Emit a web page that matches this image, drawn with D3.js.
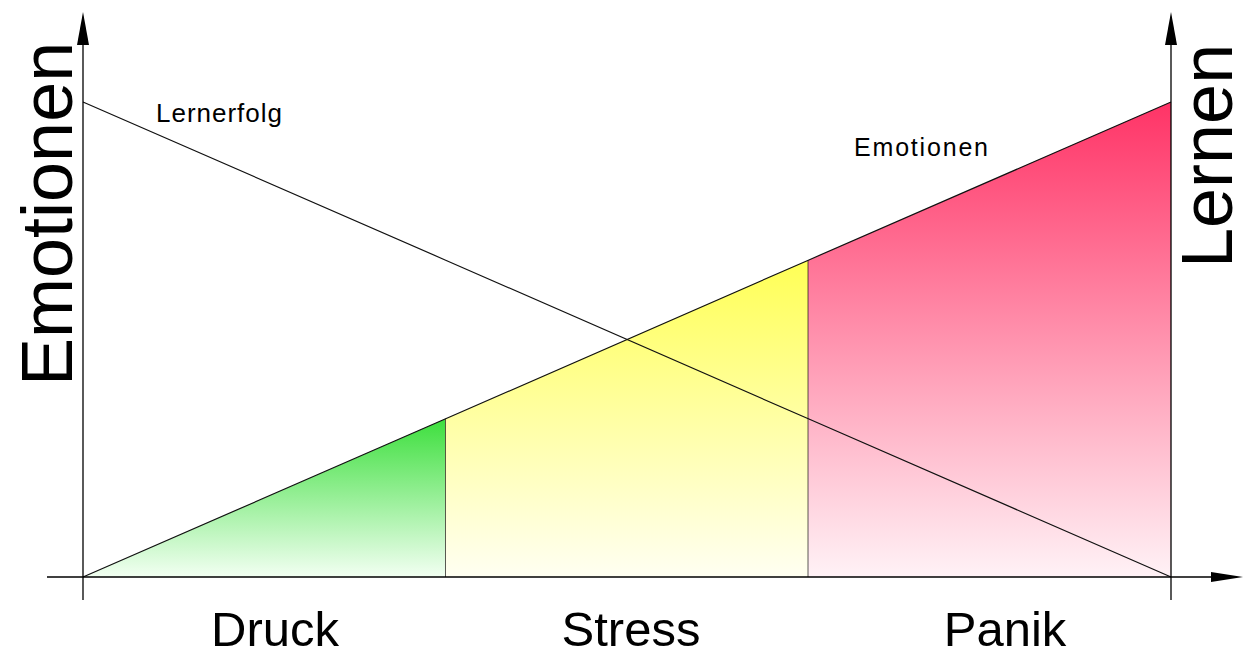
<!DOCTYPE html>
<html>
<head>
<meta charset="utf-8">
<script src="https://cdn.jsdelivr.net/npm/d3@7"></script>
<style>
  body { margin: 0; background: #fff; }
  text { font-family: "Liberation Sans", Arial, sans-serif; fill: #000; }
</style>
</head>
<body>
<div id="chart"></div>
<script>
var width = 1247, height = 657;

// phases along the x axis
var phases = ["Druck", "Stress", "Panik"];
var phaseSteps = [0, 1, 2, 3];
// emotion rises, learning success falls
var emotionValues = [0, 0.333, 0.667, 1];
var learningValues = [1, 0.667, 0.333, 0];
var phaseTop = ["#3ddf3d", "#ffff55", "#ff3366"];
var phaseBottom = ["#f2fff2", "#fffff2", "#fff2f6"];

var svg = d3.select("#chart").append("svg")
    .attr("width", width)
    .attr("height", height);

var x = d3.scaleLinear().domain([0, 3]).range([83, 1171]);
var y = d3.scaleLinear().domain([0, 1]).range([577, 102]);

var defs = svg.append("defs");
phases.forEach(function(p, i) {
  var gr = defs.append("linearGradient")
      .attr("id", "grad" + i)
      .attr("x1", 0).attr("y1", 0).attr("x2", 0).attr("y2", 1);
  gr.append("stop").attr("offset", "0%").attr("stop-color", phaseTop[i]);
  gr.append("stop").attr("offset", "100%").attr("stop-color", phaseBottom[i]);
});

//filled phase areas under the emotion line
phases.forEach(function(p, i) {
  var pts = [
    [x(phaseSteps[i]), y(0)],
    [x(phaseSteps[i]), y(emotionValues[i])],
    [x(phaseSteps[i + 1]), y(emotionValues[i + 1])],
    [x(phaseSteps[i + 1]), y(0)]
  ];
  svg.append("path")
    .attr("d", "M" + pts.join("L") + "Z")
    .attr("fill", "url(#grad" + i + ")");
  if (i < phases.length - 1) {
    svg.append("line")
      .attr("x1", x(phaseSteps[i + 1])).attr("x2", x(phaseSteps[i + 1]))
      .attr("y1", y(0)).attr("y2", y(emotionValues[i + 1]))
      .attr("stroke", "#000").attr("stroke-width", 1.3);
  }
});

var line = d3.line()
  .x(function(d, i) { return x(phaseSteps[i]); })
  .y(function(d) { return y(d); });

svg.append("path").datum(emotionValues)
  .attr("d", line).attr("fill", "none")
  .attr("stroke", "#111").attr("stroke-width", 1.2);
svg.append("path").datum(learningValues)
  .attr("d", line).attr("fill", "none")
  .attr("stroke", "#111").attr("stroke-width", 1.2);

//axes
var ax = svg.append("g").attr("stroke", "#000").attr("stroke-width", 1.3);
ax.append("line").attr("x1", 47).attr("x2", 1214).attr("y1", y(0)).attr("y2", y(0));
ax.append("line").attr("x1", x(0)).attr("x2", x(0)).attr("y1", 600).attr("y2", 44);
ax.append("line").attr("x1", x(3)).attr("x2", x(3)).attr("y1", 600).attr("y2", 44);

function upArrow(cx) {
  svg.append("path")
    .attr("d", "M" + cx + ",12L" + (cx + 6) + ",45L" + (cx - 6) + ",45Z")
    .attr("fill", "#000");
}
upArrow(x(0));
upArrow(x(3));
svg.append("path")
  .attr("d", "M1243," + y(0) + "L1211," + (y(0) - 5) + "L1211," + (y(0) + 5) + "Z")
  .attr("fill", "#000");

//phase labels
var labelX = [275, 631, 1005];
phases.forEach(function(p, i) {
  svg.append("text")
    .attr("x", labelX[i]).attr("y", 646)
    .attr("text-anchor", "middle")
    .style("font-size", "49px")
    .text(p);
});

//axis titles
svg.append("text")
  .attr("transform", "translate(72,386) rotate(-90)")
  .style("font-size", "72px")
  .text("Emotionen");
svg.append("text")
  .attr("transform", "translate(1232,268) rotate(-90)")
  .style("font-size", "72px")
  .text("Lernen");

//line labels
svg.append("text").attr("x", 156).attr("y", 122)
  .style("font-size", "26px").attr("textLength", 126).text("Lernerfolg");
svg.append("text").attr("x", 854).attr("y", 156)
  .style("font-size", "25px").attr("textLength", 134).text("Emotionen");
</script>
</body>
</html>
